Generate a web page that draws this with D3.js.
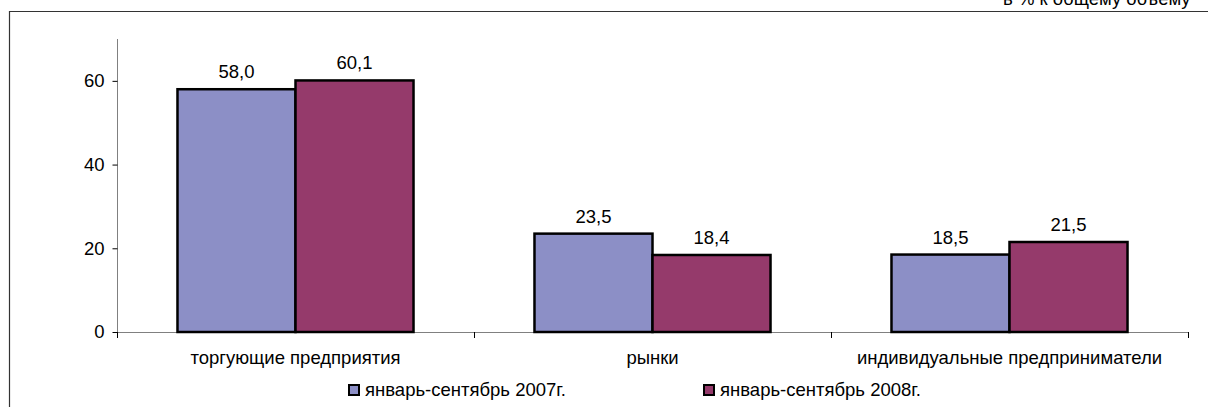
<!DOCTYPE html>
<html><head><meta charset="utf-8">
<script src="https://cdn.jsdelivr.net/npm/d3@7"></script>
<style>body{margin:0;background:#fff;overflow:hidden}svg{display:block}text{font-family:"Liberation Sans",Arial,sans-serif;fill:#000}</style>
</head><body>
<script>
const categories = ["торгующие предприятия", "рынки", "индивидуальные предприниматели"];
const seriesNames = ["январь-сентябрь 2007г.", "январь-сентябрь 2008г."];
const values2007 = [58.0, 23.5, 18.5];
const values2008 = [60.1, 18.4, 21.5];
const yTicks = [0, 20, 40, 60];
const unitNote = "в % к общему объему";

const W = 1208, H = 407;
const FS = "18.5px";
const colors = ["#8C8FC6", "#953A6B"];
const svg = d3.select("body").append("svg").attr("width", W).attr("height", H);

// frame
svg.append("path").attr("d", "M9.5,407 V11.5 H1208").attr("fill","none").attr("stroke","#333").attr("stroke-width",1.2);
svg.append("text").attr("x", 1003).attr("y", 5).style("font-size", FS).text(unitNote);

const x0 = d3.scaleBand().domain(categories).range([117, 1188]).paddingInner(0).paddingOuter(0);
const x1 = d3.scaleBand().domain(seriesNames).range([0, x0.bandwidth()]).paddingInner(0).paddingOuter(0.5125);
const y = d3.scaleLinear().domain([0, 70]).range([332, 39]);

// y axis
const ya = svg.append("g").attr("transform","translate(117.5,0)")
  .call(d3.axisLeft(y).tickValues(yTicks).tickSize(5).tickPadding(8).tickFormat(d3.format("d")));
ya.select(".domain").attr("stroke","#808080").attr("d", `M-0,${y(70)}V${y(0)}`);
ya.selectAll(".tick line").attr("stroke","#000");
ya.selectAll(".tick text").style("font-size", FS).style("font-family","Liberation Sans, Arial, sans-serif");

// x axis line + boundary ticks
svg.append("line").attr("x1",117).attr("x2",1188).attr("y1",y(0)+0.5).attr("y2",y(0)+0.5).attr("stroke","#808080");
const bounds = categories.map(c => x0(c)).concat([x0.range()[1]]);
svg.selectAll(".xt").data(bounds).join("line")
  .attr("x1", d => Math.round(d)+0.5).attr("x2", d => Math.round(d)+0.5)
  .attr("y1", y(0)).attr("y2", y(0)+6).attr("stroke","#000");
svg.selectAll(".xl").data(categories).join("text")
  .attr("x", d => x0(d) + x0.bandwidth()/2).attr("y", 364).attr("text-anchor","middle")
  .style("font-size", FS).text(d => d);

const data = categories.map((c,i) => ({c, vals:[values2007[i], values2008[i]]}));
const fmt = v => d3.format(".1f")(v).replace(".", ",");
const g = svg.selectAll(".grp").data(data).join("g").attr("transform", d => `translate(${x0(d.c)},0)`);
g.selectAll("rect").data(d => d.vals.map((v,j)=>({v, s:seriesNames[j], j}))).join("rect")
  .attr("x", d => x1(d.s)).attr("width", x1.bandwidth())
  .attr("y", d => y(d.v)).attr("height", d => y(0) - y(d.v))
  .attr("fill", d => colors[d.j]).attr("stroke","#000").attr("stroke-width",2.5);
g.selectAll("text.v").data(d => d.vals.map((v,j)=>({v, s:seriesNames[j]}))).join("text")
  .attr("class","v").attr("x", d => x1(d.s) + x1.bandwidth()/2).attr("y", d => y(d.v) - 11)
  .attr("text-anchor","middle").style("font-size", FS).text(d => fmt(d.v));

// legend
const legX = [348, 703];
const lg = svg.selectAll(".lg").data(seriesNames).join("g").attr("transform", (d,i) => `translate(${legX[i]},384)`);
lg.append("rect").attr("x",1).attr("y",1).attr("width",10).attr("height",10).attr("fill",(d,i)=>colors[i]).attr("stroke","#000").attr("stroke-width",2);
lg.append("text").attr("x",17).attr("y",12).style("font-size", FS).text(d => d);
</script>
</body></html>
